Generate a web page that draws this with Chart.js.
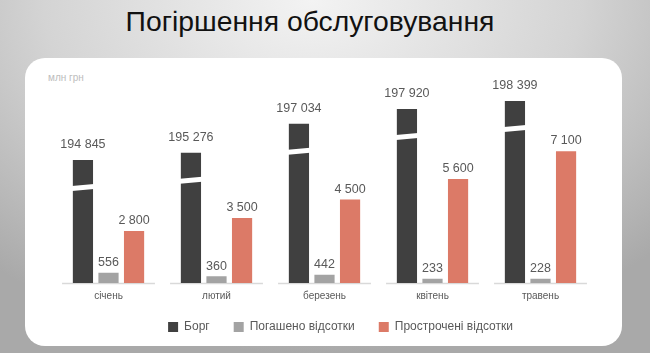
<!DOCTYPE html>
<html>
<head>
<meta charset="utf-8">
<script src="https://cdn.jsdelivr.net/npm/chart.js@4.4.1/dist/chart.umd.min.js"></script>
<style>
  html, body { margin: 0; padding: 0; }
  body {
    width: 650px; height: 353px; position: relative; overflow: hidden;
    background: radial-gradient(ellipse 75% 100% at 48% 0%, #f3f3f3 0%, #d4d4d4 55%, #a9a9a9 100%);
    font-family: 'Liberation Sans', Arial, sans-serif;
  }
  .title {
    position: absolute; left: 0; top: 6px; width: 620px; text-align: center;
    font-size: 28.3px; line-height: 30px; color: #111;
  }
  .panel {
    position: absolute; left: 25px; top: 58px; width: 597px; height: 288px;
    background: #fff; border-radius: 20px;
  }
  .unit { position: absolute; left: 23px; top: 14px; font-size: 10px; color: #bdbdbd; }
  canvas { position: absolute; left: 0; top: 0; }
</style>
</head>
<body>
<div class="title">Погіршення обслуговування</div>
<div class="panel">
  <div class="unit">млн грн</div>
  <canvas id="chart" width="597" height="288"></canvas>
</div>
<script>
const months = ['січень', 'лютий', 'березень', 'квітень', 'травень'];
const borg = [194845, 195276, 197034, 197920, 198399];
const pogasheno = [556, 360, 442, 233, 228];
const prostrocheni = [2800, 3500, 4500, 5600, 7100];
const seriesNames = ['Борг', 'Погашено відсотки', 'Прострочені відсотки'];

const fmt = v => String(v).replace(/\B(?=(\d{3})+(?!\d))/g, ' ');

// axis line drawn per category, with gaps between them
const axisSegments = {
  id: 'axisSegments',
  beforeDatasetsDraw(chart) {
    const x = chart.scales.x, ctx = chart.ctx;
    const y = chart.chartArea.bottom + 0.5;
    const w = x.width / months.length * 0.86;
    ctx.save();
    ctx.strokeStyle = '#d9d9d9';
    ctx.lineWidth = 1.5;
    months.forEach((m, i) => {
      const c = x.getPixelForValue(i);
      ctx.beginPath();
      ctx.moveTo(c - w / 2, y);
      ctx.lineTo(c + w / 2, y);
      ctx.stroke();
    });
    ctx.restore();
  }
};

// broken-axis mark on the debt bars + value labels
const barMarks = {
  id: 'barMarks',
  afterDatasetsDraw(chart) {
    const ctx = chart.ctx;
    ctx.save();
    chart.getDatasetMeta(0).data.forEach(bar => {
      const l = bar.x - bar.width / 2 - 1, r = bar.x + bar.width / 2 + 1;
      const y0 = bar.y + 24;
      ctx.fillStyle = '#fff';
      ctx.beginPath();
      ctx.moveTo(l, y0 + 2);
      ctx.lineTo(r, y0);
      ctx.lineTo(r, y0 + 5);
      ctx.lineTo(l, y0 + 7);
      ctx.closePath();
      ctx.fill();
    });
    ctx.font = '12.5px "Liberation Sans", Arial, sans-serif';
    ctx.fillStyle = '#595959';
    ctx.textAlign = 'center';
    ctx.textBaseline = 'bottom';
    chart.data.datasets.forEach((ds, di) => {
      chart.getDatasetMeta(di).data.forEach((bar, i) => {
        const off = di === 0 ? 9 : 4;
        ctx.fillText(fmt(ds.data[i]), bar.x, bar.y - off);
      });
    });
    ctx.restore();
  }
};

// legend: fixed height, nudged right/up to where the original sits
const legendPlace = {
  id: 'legendPlace',
  beforeLayout(chart) {
    const lg = chart.legend;
    if (lg && !lg._fitWrapped) {
      const orig = lg.fit.bind(lg);
      lg.fit = function () { orig(); this.height = 43; };
      lg._fitWrapped = true;
    }
  },
  afterLayout(chart) {
    const lg = chart.legend;
    lg.left += 16; lg.right += 16;
    lg.top -= 6; lg.bottom -= 6;
  }
};

new Chart(document.getElementById('chart'), {
  type: 'bar',
  data: {
    labels: months,
    datasets: [
      { label: seriesNames[0], data: borg, backgroundColor: '#404040', yAxisID: 'y2' },
      { label: seriesNames[1], data: pogasheno, backgroundColor: '#a3a3a3', yAxisID: 'y' },
      { label: seriesNames[2], data: prostrocheni, backgroundColor: '#dc7a67', yAxisID: 'y' }
    ]
  },
  options: {
    responsive: false,
    animation: false,
    events: [],
    categoryPercentage: 0.71,
    barPercentage: 0.79,
    layout: { padding: { left: 29.5, right: 27.5, top: 17, bottom: 0 } },
    scales: {
      x: {
        grid: { display: false, drawTicks: false },
        border: { display: false },
        ticks: { padding: 7, color: '#595959', font: { size: 10, family: '"Liberation Sans", Arial, sans-serif' } },
        afterFit(scale) { scale.height = 20; }
      },
      y: { display: false, min: 0, max: 11213 },
      y2: { display: false, min: 187436, max: 199966 }
    },
    plugins: {
      legend: {
        position: 'bottom',
        labels: {
          boxWidth: 10, boxHeight: 10, padding: 24, color: '#595959',
          font: { size: 12, family: '"Liberation Sans", Arial, sans-serif' }
        }
      },
      tooltip: { enabled: false }
    }
  },
  plugins: [axisSegments, barMarks, legendPlace]
});
</script>
</body>
</html>
